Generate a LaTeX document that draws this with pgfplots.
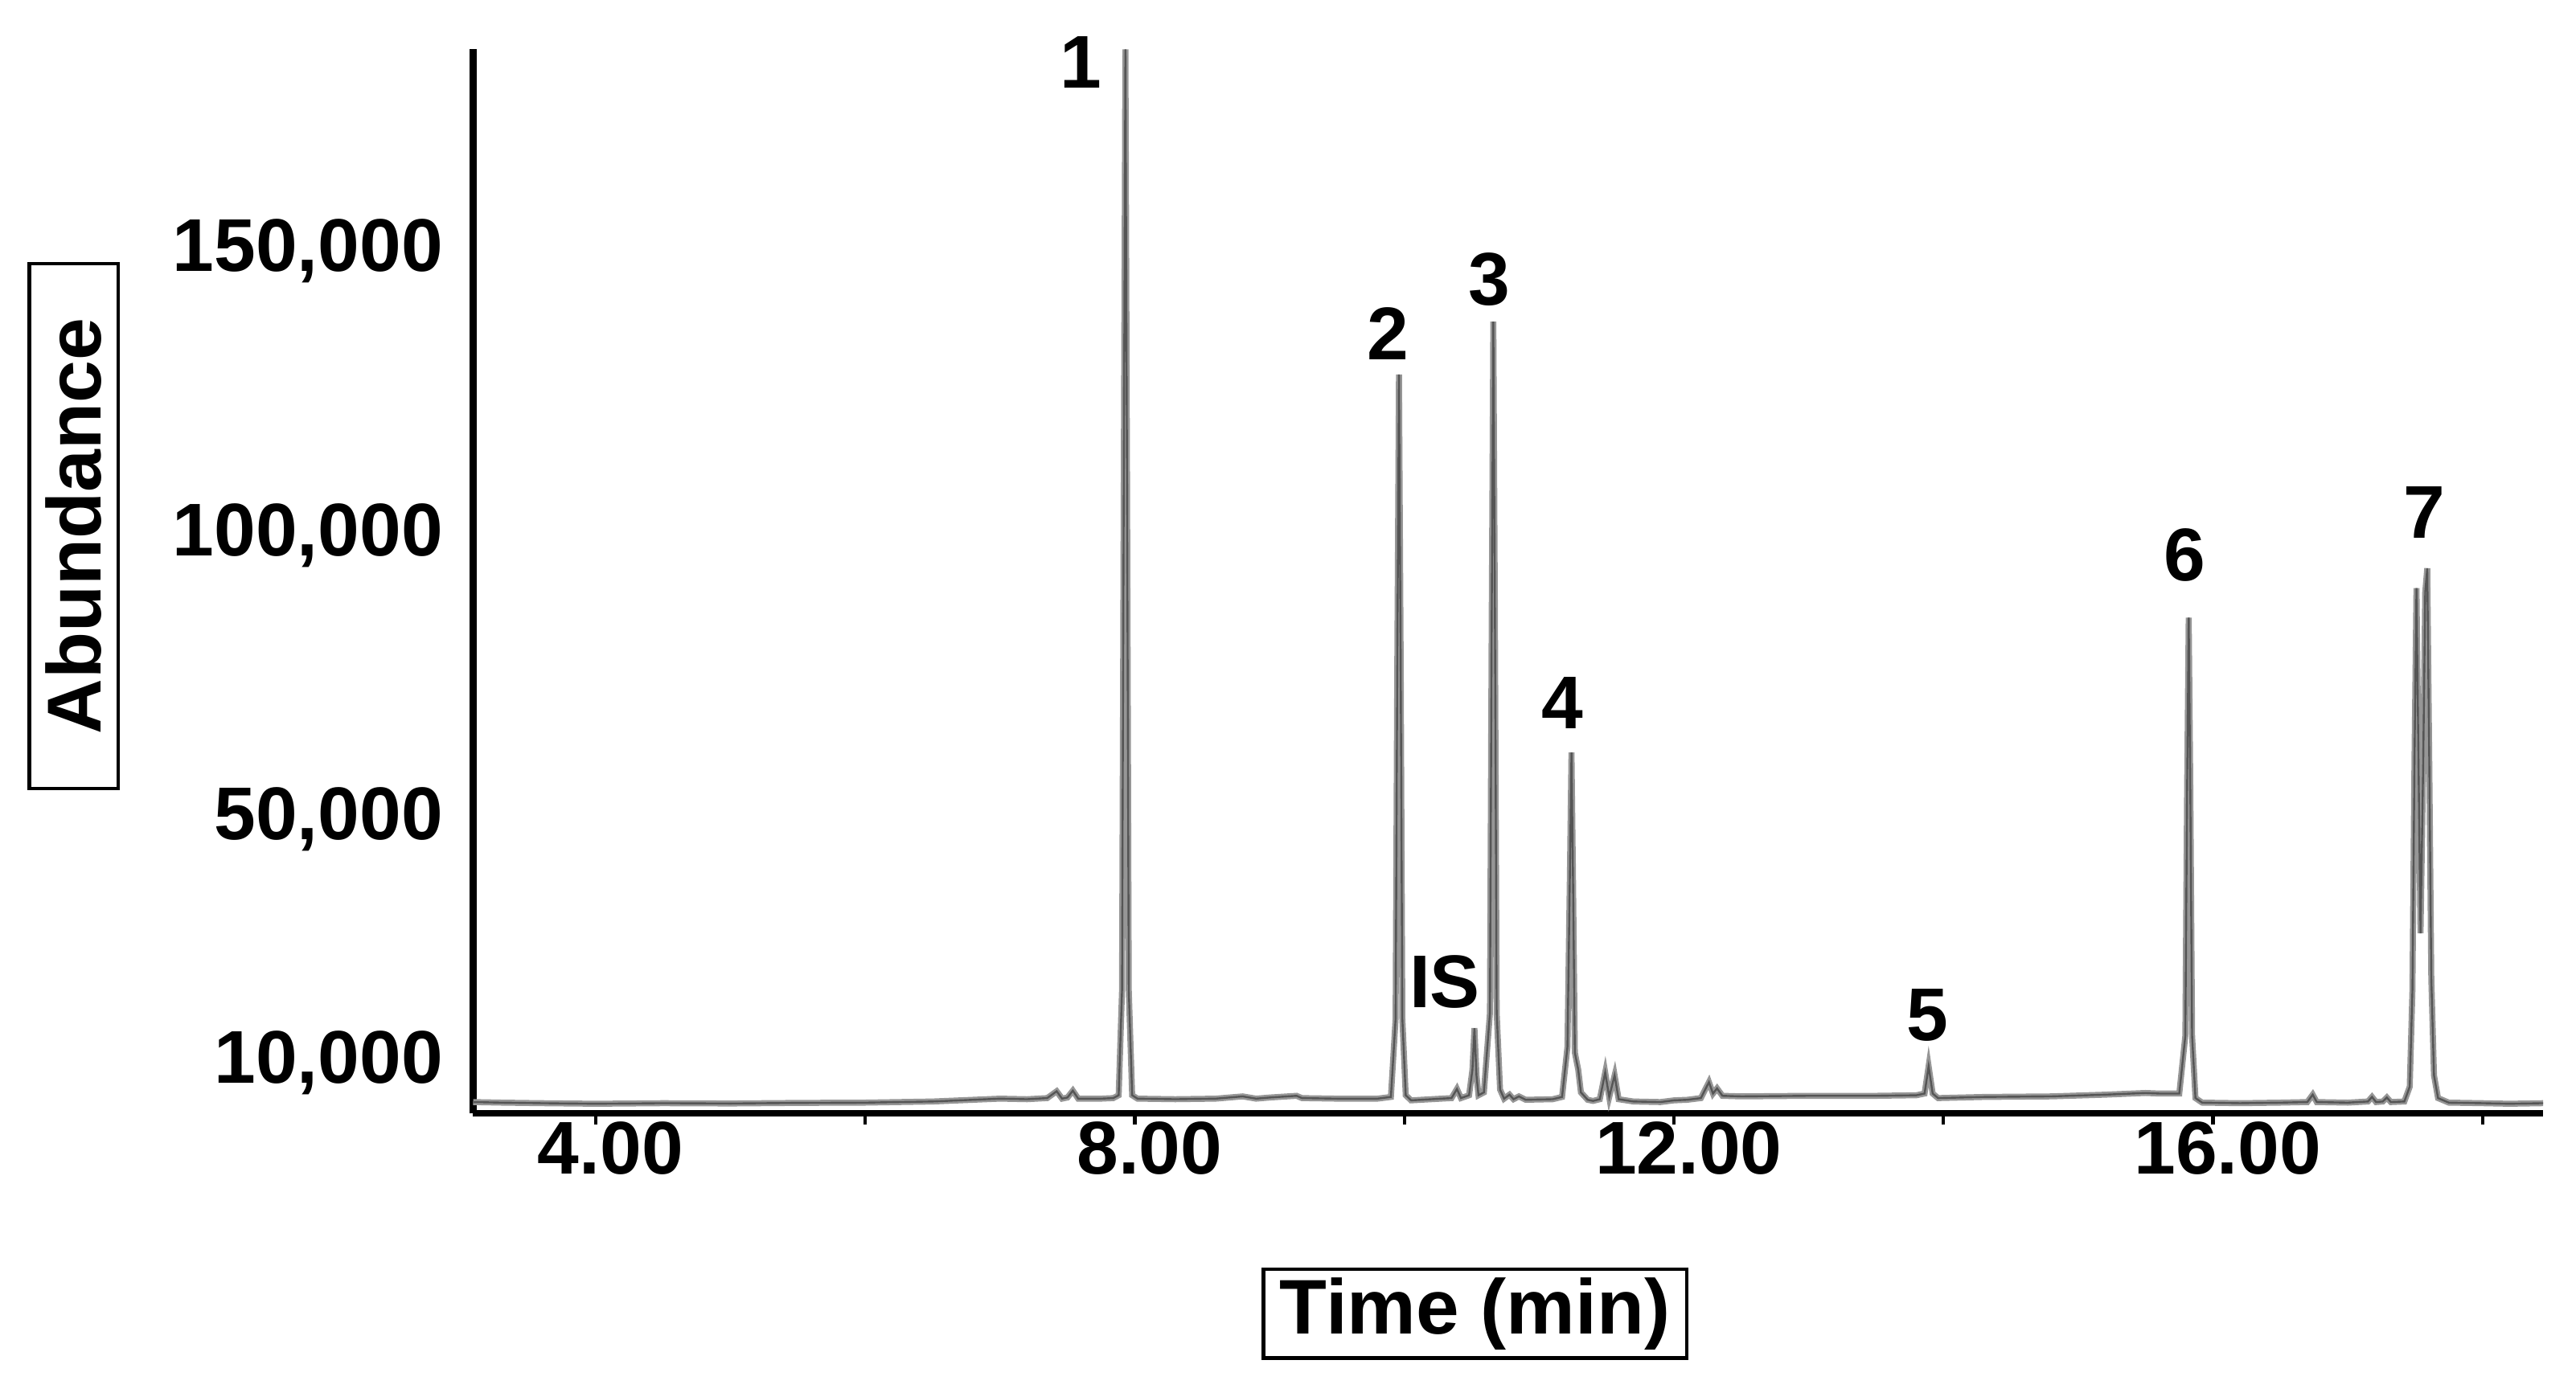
\documentclass[border=0pt]{standalone}
\usepackage{pgfplots}
\usepackage{pgfplotstable}
\pgfplotsset{compat=1.18}
\usepackage{fontspec}
\setmainfont{Liberation Sans}
\definecolor{lightgr}{RGB}{150,150,150}
\definecolor{darkgr}{RGB}{85,85,85}

\pgfplotstableread{
t v
3.09 300
3.3 200
3.6 100
4.0 0
4.5 100
5.0 50
5.5 150
6.0 200
6.5 400
6.8 700
7.0 900
7.2 800
7.35 1000
7.42 2200
7.46 900
7.50 1100
7.54 2300
7.58 900
7.75 900
7.84 1000
7.88 1500
7.905 20000
7.918 110000
7.93 185500
7.942 110000
7.955 20000
7.98 1500
8.02 900
8.3 800
8.6 900
8.8 1300
8.9 900
9.0 1100
9.2 1400
9.24 1000
9.5 900
9.8 900
9.90 1200
9.935 15000
9.948 80000
9.96 128300
9.972 80000
9.985 15000
10.01 1500
10.05 600
10.2 800
10.35 1000
10.39 2600
10.42 1000
10.48 1500
10.505 6000
10.52 13300
10.535 5000
10.55 1500
10.59 2000
10.635 16000
10.648 85000
10.66 137600
10.672 85000
10.685 16000
10.71 2500
10.74 900
10.78 1600
10.81 800
10.85 1300
10.9 700
11.1 800
11.17 1200
11.21 10000
11.228 40000
11.24 61800
11.252 38000
11.265 9000
11.29 6000
11.31 2000
11.36 700
11.40 500
11.45 800
11.49 5500
11.52 1200
11.56 5000
11.59 800
11.7 400
11.9 300
12.0 600
12.1 700
12.2 1000
12.26 3800
12.29 1800
12.32 2700
12.36 1400
12.5 1300
13.0 1400
13.5 1400
13.8 1500
13.86 1800
13.89 6600
13.92 1800
13.96 1000
14.3 1200
14.8 1300
15.2 1600
15.5 1900
15.6 1800
15.75 1800
15.795 12000
15.808 55000
15.82 85500
15.832 55000
15.845 12000
15.87 1000
15.92 200
16.2 100
16.5 200
16.70 300
16.74 1600
16.77 300
17.0 200
17.15 400
17.18 1200
17.21 300
17.26 400
17.29 1100
17.32 300
17.42 400
17.46 3000
17.48 20000
17.495 60000
17.51 90700
17.525 60000
17.54 30000
17.56 60000
17.575 90000
17.59 94200
17.605 60000
17.62 22000
17.64 5000
17.67 1000
17.75 200
18.0 100
18.2 0
18.45 100
}\chrom

\begin{document}
\begin{tikzpicture}
\begin{axis}[
  scale only axis,
  width=378bp, height=194.4bp,
  xmin=3.09, xmax=18.45,
  ymin=-1730, ymax=185500,
  axis x line=bottom, axis y line=left,
  axis line style={-, line width=1.2bp, black},
  clip=false,
  scaled y ticks=false, scaled x ticks=false,
  xtick={4,6,8,10,12,14,16,18},
  xticklabels={4.00,,8.00,,12.00,,16.00,},
  xtick align=outside,
  xtick style={black, line width=0.6bp},
  major tick length=2bp,
  ytick={7200,50000,100000,150000},
  yticklabels={10{,}000,50{,}000,100{,}000,150{,}000},
  ytick style={draw=none},
  tick label style={font=\fontsize{13.7}{14}\selectfont\bfseries},
  yticklabel style={xshift=-1bp},
  xticklabel style={xshift=2.7bp, yshift=4bp},
  xlabel={Time (min)},
  ylabel={Abundance},
  xlabel style={font=\fontsize{14.2}{15}\selectfont\bfseries, draw, line width=0.6bp,
    inner xsep=3bp, inner ysep=1.5bp,
    at={(axis description cs:0.484,-0.188)}, anchor=center},
  ylabel style={font=\fontsize{14}{15}\selectfont\bfseries, draw, line width=0.6bp,
    inner xsep=10bp, inner ysep=3bp,
    at={(axis description cs:-0.1929,0.552)}, anchor=center},
]
\addplot[color=lightgr, line width=1.1bp, mark=none] table[x=t,y=v] {\chrom};
\addplot[color=darkgr, line width=0.35bp, mark=none] table[x=t,y=v] {\chrom};

\begin{scope}[every node/.style={font=\fontsize{13.7}{14}\selectfont\bfseries, inner sep=0pt}]
\node at (axis cs:7.60,183200) {1};
\node at (axis cs:9.88,135500) {2};
\node at (axis cs:10.63,145000) {3};
\node at (axis cs:11.17,70500) {4};
\node at (axis cs:10.30,21400) {IS};
\node at (axis cs:13.88,15600) {5};
\node at (axis cs:15.79,96500) {6};
\node at (axis cs:17.57,104000) {7};
\end{scope}
\end{axis}
\pgfresetboundingbox
\useasboundingbox ([xshift=-86.4bp,yshift=-51bp]current axis.south west) rectangle ([xshift=6bp,yshift=9bp]current axis.north east);
\end{tikzpicture}
\end{document}
